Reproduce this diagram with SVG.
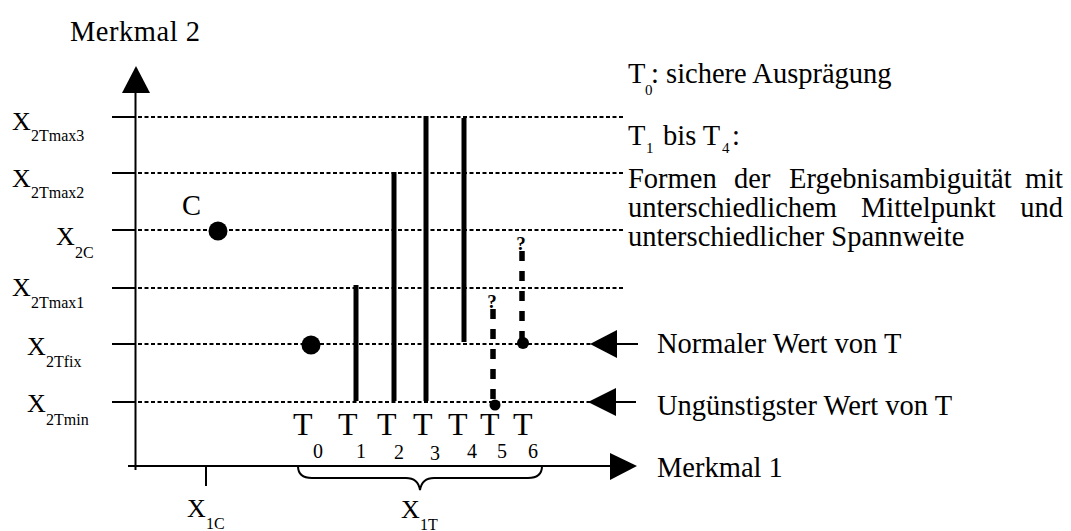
<svg xmlns="http://www.w3.org/2000/svg" width="1071" height="531" viewBox="0 0 1071 531">
  <style>
    text { font-family: "Liberation Serif", "Times New Roman", serif; fill: #000; }
    .lbl { font-size: 28.5px; }
    .big { font-size: 32px; }
    .ax { font-size: 26px; }
    .sub { font-size: 16px; }
    .tsub { font-size: 20px; }
    .q { font-size: 19px; font-weight: bold; text-anchor: middle; }
    .axis { stroke: #000; stroke-width: 2; fill: none; }
    .tick { stroke: #000; stroke-width: 2; }
    .level { stroke: #000; stroke-width: 2.2; stroke-dasharray: 4 2.5; fill: none; }
    .bar { stroke: #000; stroke-width: 5; }
    .open { stroke: #000; stroke-width: 5.5; stroke-dasharray: 10 10; }
    .head { fill: #000; }
  </style>

  <rect width="1071" height="531" fill="#fff"/>

  <!-- coordinate axes -->
  <g id="axes">
    <line class="axis" x1="135.5" y1="92" x2="135.5" y2="470"/>
    <polygon class="head" points="122,93 136,66 150,93"/>
    <line class="axis" x1="128" y1="466" x2="611" y2="466"/>
    <polygon class="head" points="610,453 637,466 610,480"/>
    <text class="lbl" x="70" y="41" textLength="130">Merkmal 2</text>
    <text class="lbl" x="657" y="477">Merkmal 1</text>
    <!-- ticks on the y axis -->
    <line class="tick" x1="112" y1="117" x2="135" y2="117"/>
    <line class="tick" x1="112" y1="173" x2="135" y2="173"/>
    <line class="tick" x1="112" y1="230" x2="135" y2="230"/>
    <line class="tick" x1="112" y1="288" x2="135" y2="288"/>
    <line class="tick" x1="112" y1="344" x2="135" y2="344"/>
    <line class="tick" x1="112" y1="402" x2="135" y2="402"/>
    <!-- tick on the x axis -->
    <line class="tick" x1="206" y1="466" x2="206" y2="486"/>
  </g>

  <!-- y axis value labels -->
  <g id="y-labels">
    <text class="ax" x="12" y="130">X<tspan class="sub" x="31" y="141">2Tmax3</tspan></text>
    <text class="ax" x="12" y="187">X<tspan class="sub" x="31" y="198">2Tmax2</tspan></text>
    <text class="ax" x="56" y="245">X<tspan class="sub" x="75" y="258">2C</tspan></text>
    <text class="ax" x="12" y="296">X<tspan class="sub" x="31" y="308">2Tmax1</tspan></text>
    <text class="ax" x="27" y="355">X<tspan class="sub" x="46" y="367">2Tfix</tspan></text>
    <text class="ax" x="27" y="412">X<tspan class="sub" x="46" y="425">2Tmin</tspan></text>
  </g>

  <!-- x axis value labels and brace -->
  <g id="x-labels">
    <text class="ax" x="187" y="517">X<tspan class="sub" x="206" y="529">1C</tspan></text>
    <path class="axis" stroke-width="1.8" d="M298,466 Q298,478 312,478 L406,478 Q418,478 420,490 Q422,478 434,478 L528,478 Q542,478 542,466"/>
    <text class="ax" x="401" y="518">X<tspan class="sub" x="420" y="530">1T</tspan></text>
  </g>

  <!-- dotted reference levels and legend arrows -->
  <g id="connectors">
    <line class="level" x1="138" y1="117" x2="623" y2="117"/>
    <line class="level" x1="138" y1="173" x2="623" y2="173"/>
    <line class="level" x1="138" y1="230" x2="623" y2="230"/>
    <line class="level" x1="138" y1="288" x2="623" y2="288"/>
    <line class="level" x1="138" y1="344" x2="592" y2="344"/>
    <line class="level" x1="138" y1="402" x2="590" y2="402"/>
    <polygon class="head" points="590,344 617,330 617,358"/>
    <line class="tick" x1="616" y1="344" x2="638" y2="344"/>
    <polygon class="head" points="588,402 616,388 616,416"/>
    <line class="tick" x1="615" y1="402" x2="636" y2="402"/>
  </g>

  <!-- point C -->
  <g id="point-C">
    <circle cx="218" cy="231" r="9.5"/>
    <text class="lbl" x="182" y="215">C</text>
  </g>

  <!-- characteristic values T0 ... T6 -->
  <g id="T0">
    <circle cx="311" cy="345" r="9.5"/>
    <text class="big" x="293" y="435">T<tspan class="tsub" x="313" y="458">0</tspan></text>
  </g>
  <g id="T1">
    <line class="bar" x1="356" y1="285" x2="356" y2="401"/>
    <text class="big" x="338" y="435">T<tspan class="tsub" x="356" y="458">1</tspan></text>
  </g>
  <g id="T2">
    <line class="bar" x1="394" y1="172" x2="394" y2="401"/>
    <text class="big" x="377" y="435">T<tspan class="tsub" x="394" y="459">2</tspan></text>
  </g>
  <g id="T3">
    <line class="bar" x1="426" y1="116" x2="426" y2="401"/>
    <text class="big" x="413" y="435">T<tspan class="tsub" x="430" y="460">3</tspan></text>
  </g>
  <g id="T4">
    <line class="bar" x1="464" y1="118" x2="464" y2="342"/>
    <text class="big" x="448" y="435">T<tspan class="tsub" x="467" y="458">4</tspan></text>
  </g>
  <g id="T5">
    <line class="open" x1="493" y1="309" x2="493" y2="402"/>
    <circle cx="495" cy="405" r="5.5"/>
    <text class="q" x="492" y="308">?</text>
    <text class="big" x="480" y="435">T<tspan class="tsub" x="497" y="458">5</tspan></text>
  </g>
  <g id="T6">
    <line class="open" x1="522" y1="251" x2="522" y2="340" stroke-dasharray="8 11"/>
    <circle cx="523" cy="343" r="6"/>
    <text class="q" x="521" y="250">?</text>
    <text class="big" x="513" y="435">T<tspan class="tsub" x="528" y="458">6</tspan></text>
  </g>

  <!-- legend -->
  <g id="legend">
    <text class="lbl" x="628" y="83">T<tspan font-size="15" x="645" y="95">0</tspan><tspan x="651" y="83">: sichere Ausprägung</tspan></text>
    <text class="lbl" x="628" y="145">T<tspan font-size="15" x="646" y="153">1</tspan><tspan x="663" y="145">bis T</tspan><tspan font-size="15" x="722" y="153">4</tspan><tspan x="732" y="145">:</tspan></text>
    <text class="lbl" y="188"><tspan x="628">Formen</tspan><tspan x="734">der</tspan><tspan x="789">Ergebnisambiguität</tspan><tspan x="1063" text-anchor="end">mit</tspan></text>
    <text class="lbl" y="217"><tspan x="628">unterschiedlichem</tspan><tspan x="861">Mittelpunkt</tspan><tspan x="1063" text-anchor="end">und</tspan></text>
    <text class="lbl" x="628" y="246">unterschiedlicher Spannweite</text>
    <text class="lbl" x="657" y="353">Normaler Wert von T</text>
    <text class="lbl" x="657" y="415">Ungünstigster Wert von T</text>
  </g>
</svg>
